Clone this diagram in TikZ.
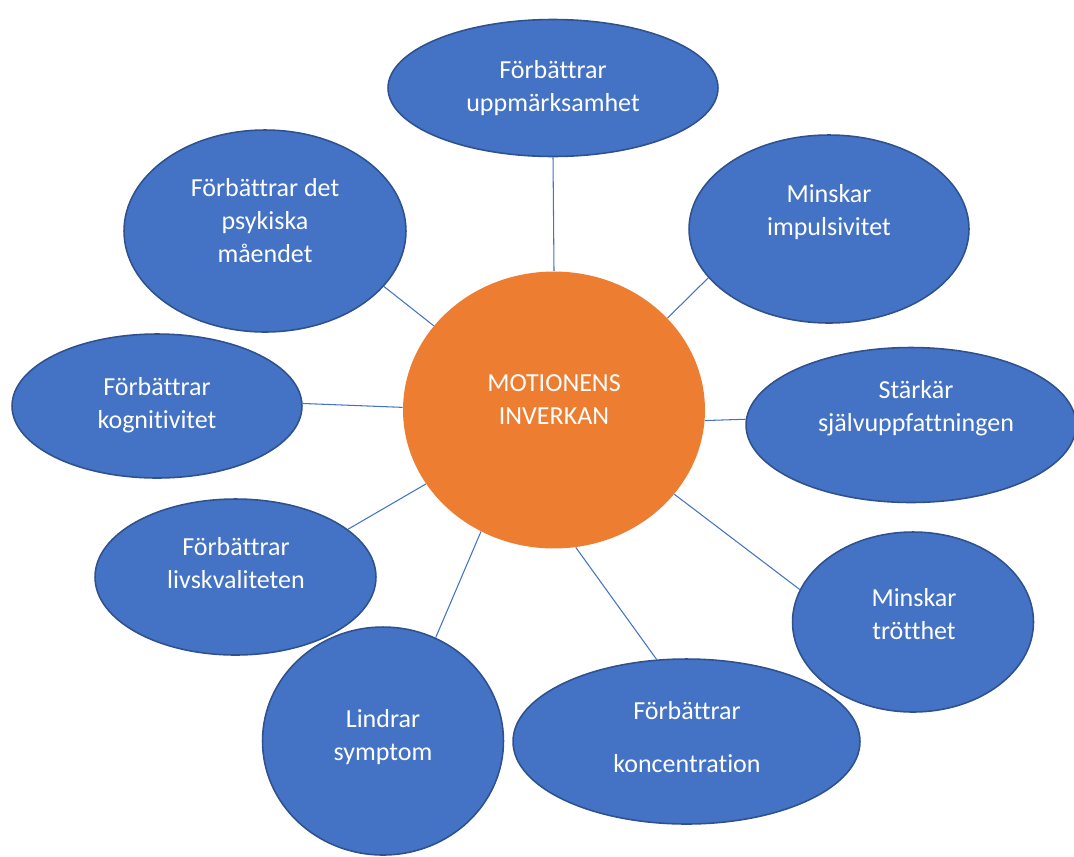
\documentclass[tikz,border=0pt]{standalone}
\usepackage{fontspec}
\setmainfont{Carlito}[Ligatures=NoCommon]
\usepackage{tikz}
\usetikzlibrary{shapes.geometric}

\definecolor{effblue}{HTML}{4472C4}
\definecolor{effedge}{HTML}{2F528F}
\definecolor{motorange}{HTML}{ED7D31}

\begin{document}
\begin{tikzpicture}[x=0.02cm,y=-0.02cm,
    effect/.style={ellipse,draw=effedge,line width=0.9pt,fill=effblue,inner sep=0pt},
    hub/.style={ellipse,fill=motorange,inner sep=0pt},
    txt/.style={text=white,align=center,font=\fontsize{14.8}{18.8}\selectfont},
    spoke/.style={draw=effblue,line width=0.6pt}]
    \useasboundingbox (0,0) rectangle (1074,856);

    % centre
    \node[hub,minimum width=6.04cm,minimum height=5.54cm] (mot) at (554,410) {};
    \node[txt] (mot_t) at (554,400) {MOTIONENS\\INVERKAN};

    % effects around it
    \node[effect,minimum width=6.6cm,minimum height=2.74cm]  (upp) at (553,88)    {};
    \node[effect,minimum width=5.64cm,minimum height=4.04cm] (psy) at (265,231)   {};
    \node[effect,minimum width=5.6cm,minimum height=3.76cm]  (imp) at (829,229)   {};
    \node[effect,minimum width=5.8cm,minimum height=2.88cm]  (kog) at (157,406)   {};
    \node[effect,minimum width=6.6cm,minimum height=3.1cm]   (sja) at (911,425)   {};
    \node[effect,minimum width=5.62cm,minimum height=3.12cm] (liv) at (235.5,577) {};
    \node[effect,minimum width=4.82cm,minimum height=3.6cm]  (tro) at (913,622)   {};
    \node[effect,minimum width=4.82cm,minimum height=4.56cm] (sym) at (383,741)   {};
    \node[effect,minimum width=6.94cm,minimum height=3.3cm]  (kon) at (686.5,741.5) {};

    \node[txt] (upp_t) at (553,88)  {Förbättrar\\uppmärksamhet};
    \node[txt] (psy_t) at (265,221) {Förbättrar det\\psykiska\\måendet};
    \node[txt] (imp_t) at (829,212) {Minskar\\impulsivitet};
    \node[txt] (kog_t) at (157,405) {Förbättrar\\kognitivitet};
    \node[txt] (sja_t) at (916,408) {Stärkär\\självuppfattningen};
    \node[txt] (liv_t) at (236,563) {Förbättrar\\livskvaliteten};
    \node[txt] (tro_t) at (914,614) {Minskar\\trötthet};
    \node[txt] (sym_t) at (383,737) {Lindrar\\symptom};
    \node[txt] (kon_t) at (687,737) {Förbättrar\\[11.4pt]koncentration};

    % spokes
    \path[spoke]
    (mot.90)    -- (upp.-90)
    (mot.145)   -- (psy.-25)
    (mot.39)    -- (imp.202)
    (mot.179)   -- (kog.1)
    (mot.-4)    -- (sja.178)
    (mot.210)   -- (liv.23)
    (mot.-35)   -- (tro.164)
    (mot.-81)   -- (kon.110)
    (mot.239)   -- (sym.63);
\end{tikzpicture}
\end{document}
